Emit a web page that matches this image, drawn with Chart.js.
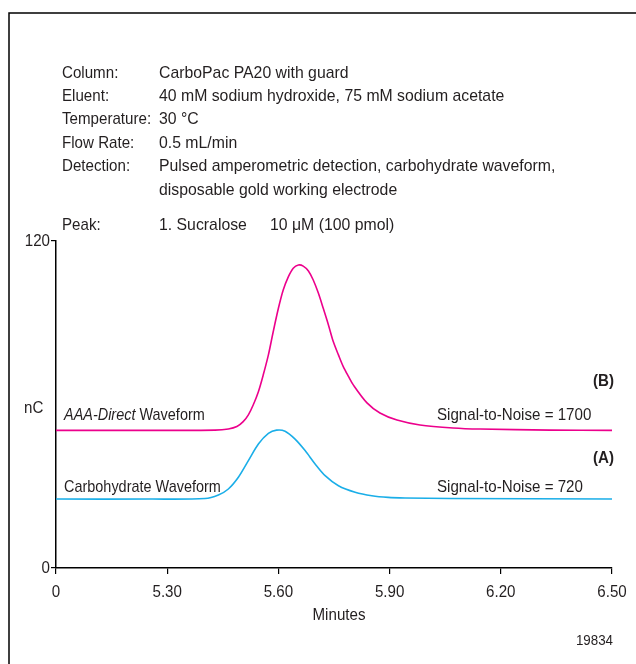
<!DOCTYPE html>
<html>
<head>
<meta charset="utf-8">
<script src="https://cdn.jsdelivr.net/npm/chart.js@4"></script>
<style>
  html, body { margin: 0; padding: 0; background: #fff; }
  #wrap { width: 636px; height: 664px; position: relative; }
</style>
</head>
<body>
<div id="wrap"><canvas id="chrom" width="636" height="664"></canvas></div>
<script>
// retention time (min) and response (nC), AAA-Direct waveform (B)
const timeB = [5.000, 5.254, 5.429, 5.465, 5.488, 5.505, 5.519, 5.532, 5.546, 5.559, 5.573, 5.586, 5.600,
  5.613, 5.627, 5.640, 5.654, 5.667, 5.681, 5.694, 5.708, 5.721, 5.735, 5.748, 5.762, 5.775, 5.789,
  5.802, 5.839, 5.874, 5.920, 5.982, 6.071, 6.144, 6.333, 6.500];
const signalB = [50.5, 50.5, 50.6, 51.0, 51.9, 53.7, 56.2, 59.8, 64.7, 70.8, 78.2, 86.7, 95.3,
  102.0, 106.9, 110.0, 111.2, 110.8, 109.0, 105.7, 100.8, 95.3, 89.2, 83.1, 78.2, 73.9, 70.3,
  67.2, 60.6, 56.9, 54.3, 52.5, 51.4, 51.0, 50.6, 50.5];

// carbohydrate waveform (A)
const timeA = [5.000, 5.254, 5.402, 5.438, 5.465, 5.492, 5.519, 5.546, 5.573, 5.595, 5.618, 5.645, 5.672,
  5.699, 5.726, 5.762, 5.807, 5.852, 5.896, 5.942, 6.063, 6.500];
const signalA = [25.3, 25.3, 25.5, 26.8, 29.0, 33.3, 39.4, 45.5, 49.4, 50.6, 50.2, 47.3, 43.1,
  38.2, 33.9, 30.2, 27.8, 26.5, 25.9, 25.7, 25.5, 25.3];

const xTicks = [5.0, 5.3, 5.6, 5.9, 6.2, 6.5];
const xTickLabels = ['0', '5.30', '5.60', '5.90', '6.20', '6.50'];
const yTicks = [0, 120];
const yTickLabels = ['0', '120'];

const conditions = [
  ['Column:', 'CarboPac PA20 with guard'],
  ['Eluent:', '40 mM sodium hydroxide, 75 mM sodium acetate'],
  ['Temperature:', '30 \u00B0C'],
  ['Flow Rate:', '0.5 mL/min'],
  ['Detection:', 'Pulsed amperometric detection, carbohydrate waveform,'],
  ['', 'disposable gold working electrode']
];

const FAMILY = '"Liberation Sans", Arial, sans-serif';
const MAGENTA = '#ec008c';
const CYAN = '#1aaee8';
const INK = '#231f20';

function pts(xs, ys) {
  return xs.map((x, i) => ({ x: x, y: ys[i] }));
}

// condensed text: measure, then squeeze along x by sx
function txt(c, s, x, y, opts) {
  const o = Object.assign({ align: 'left', font: '17px ' + FAMILY, sx: 0.89 }, opts);
  c.save();
  c.font = o.font;
  c.textBaseline = 'middle';
  c.textAlign = 'left';
  c.fillStyle = INK;
  const w = c.measureText(s).width * o.sx;
  const x0 = o.align === 'right' ? x - w : o.align === 'center' ? x - w / 2 : x;
  c.translate(x0, y);
  c.scale(o.sx, 1);
  c.fillText(s, 0, 0);
  c.restore();
  return w;
}

const annotate = {
  id: 'annotate',
  beforeDraw(chart) {
    const c = chart.ctx;
    c.save();
    c.strokeStyle = '#000';
    c.lineWidth = 1.5;
    c.beginPath();
    c.moveTo(9, 664);
    c.lineTo(9, 13);
    c.lineTo(636, 13);
    c.stroke();
    c.restore();
  },
  afterDraw(chart) {
    const c = chart.ctx;
    const xs = chart.scales.x, ys = chart.scales.y;

    conditions.forEach((row, i) => {
      const y = 73 + i * 23.4;
      txt(c, row[0], 62, y);
      txt(c, row[1], 159, y, { sx: 0.93 });
    });
    txt(c, 'Peak:', 62, 225);
    txt(c, '1. Sucralose', 159, 225, { sx: 0.93 });
    txt(c, '10 \u03BCM (100 pmol)', 270, 225, { sx: 0.93 });

    // axis labels
    xTicks.forEach((v, i) => txt(c, xTickLabels[i], xs.getPixelForValue(v), 592, { align: 'center' }));
    yTicks.forEach((v, i) => txt(c, yTickLabels[i], 50, ys.getPixelForValue(v), { align: 'right' }));
    txt(c, 'Minutes', (xs.left + xs.right) / 2 + 5, 615, { align: 'center' });
    txt(c, 'nC', 24, 408);

    // trace names and S/N
    const w = txt(c, 'AAA-Direct', 64, 415, { font: 'italic 17px ' + FAMILY, sx: 0.85 });
    txt(c, ' Waveform', 64 + w, 415, { sx: 0.85 });
    txt(c, 'Carbohydrate Waveform', 64, 487, { sx: 0.85 });
    txt(c, 'Signal-to-Noise = 1700', 437, 415);
    txt(c, 'Signal-to-Noise = 720', 437, 487);
    txt(c, '(B)', 614, 381, { align: 'right', font: 'bold 17px ' + FAMILY });
    txt(c, '(A)', 614, 458, { align: 'right', font: 'bold 17px ' + FAMILY });

    txt(c, '19834', 613, 641, { align: 'right', font: '15px ' + FAMILY });
  }
};

new Chart(document.getElementById('chrom'), {
  type: 'line',
  data: {
    datasets: [
      {
        label: 'AAA-Direct Waveform',
        data: pts(timeB, signalB),
        borderColor: MAGENTA,
        borderWidth: 1.6,
        pointRadius: 0,
        tension: 0.3,
        fill: false
      },
      {
        label: 'Carbohydrate Waveform',
        data: pts(timeA, signalA),
        borderColor: CYAN,
        borderWidth: 1.6,
        pointRadius: 0,
        tension: 0.3,
        fill: false
      }
    ]
  },
  options: {
    responsive: false,
    animation: false,
    layout: { padding: { left: 0, top: 241, right: 24, bottom: 0 } },
    plugins: { legend: { display: false }, tooltip: { enabled: false } },
    scales: {
      x: {
        type: 'linear',
        min: 5.0,
        max: 6.5,
        afterBuildTicks: s => { s.ticks = xTicks.map(v => ({ value: v })); },
        afterFit: s => { s.height = 96; },
        grid: { drawOnChartArea: false, tickLength: 6, color: '#000', lineWidth: 1.2 },
        border: { color: '#000', width: 1.5 },
        ticks: { display: false }
      },
      y: {
        min: 0,
        max: 120,
        afterBuildTicks: s => { s.ticks = yTicks.map(v => ({ value: v })); },
        afterFit: s => { s.width = 56; },
        grid: { drawOnChartArea: false, tickLength: 5, color: '#000', lineWidth: 1.2 },
        border: { color: '#000', width: 1.5 },
        ticks: { display: false }
      }
    }
  },
  plugins: [annotate]
});
</script>
</body>
</html>
